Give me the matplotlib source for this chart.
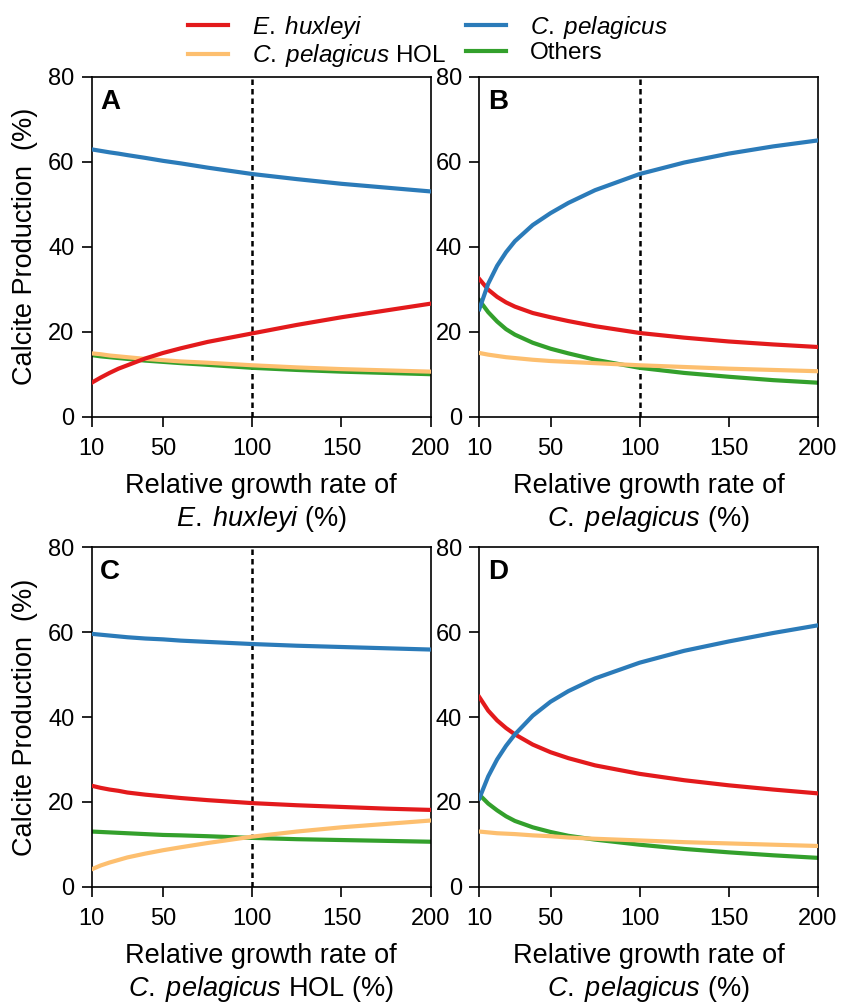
import matplotlib
matplotlib.use("Agg")
import matplotlib.pyplot as plt
from matplotlib.lines import Line2D

plt.rcParams['font.family'] = ['Liberation Sans', 'DejaVu Sans']
plt.rcParams['mathtext.fontset'] = 'custom'
plt.rcParams['mathtext.rm'] = 'Liberation Sans'
plt.rcParams['mathtext.it'] = 'Liberation Sans:italic'

# ---------------- data ----------------
growth = [10, 15, 20, 25, 30, 40, 50, 60, 75, 100, 125, 150, 175, 200]

# Panel A: E. huxleyi growth varied
a_ehux = [8.0, 9.2, 10.3, 11.3, 12.1, 13.7, 15.0, 16.1, 17.6, 19.6, 21.6, 23.4, 25.0, 26.6]
a_cpel = [62.9, 62.55, 62.2, 61.9, 61.55, 60.9, 60.2, 59.6, 58.6, 57.1, 55.9, 54.8, 53.9, 53.0]
a_hol = [14.9, 14.7, 14.4, 14.2, 14.0, 13.6, 13.3, 13.0, 12.7, 12.1, 11.6, 11.2, 10.9, 10.6]
a_oth = [14.5, 14.2, 14.0, 13.8, 13.6, 13.2, 12.9, 12.6, 12.2, 11.5, 11.0, 10.6, 10.3, 10.0]

# Panel B: C. pelagicus growth varied
b_ehux = [32.4, 29.9, 28.2, 26.9, 25.9, 24.4, 23.4, 22.5, 21.3, 19.7, 18.6, 17.7, 17.0, 16.4]
b_cpel = [25.3, 31.3, 35.5, 38.7, 41.3, 45.1, 47.9, 50.3, 53.3, 57.1, 59.8, 61.9, 63.6, 65.0]
b_hol = [15.0, 14.6, 14.3, 14.0, 13.8, 13.4, 13.1, 12.9, 12.6, 12.1, 11.7, 11.3, 11.0, 10.7]
b_oth = [27.4, 24.6, 22.4, 20.6, 19.3, 17.4, 16.0, 14.9, 13.4, 11.5, 10.3, 9.4, 8.6, 8.0]

# Panel C: C. pelagicus HOL growth varied
c_ehux = [23.8, 23.3, 22.9, 22.6, 22.2, 21.7, 21.3, 20.9, 20.4, 19.7, 19.2, 18.8, 18.4, 18.1]
c_cpel = [59.6, 59.4, 59.2, 59.0, 58.8, 58.5, 58.3, 58.0, 57.7, 57.2, 56.8, 56.5, 56.2, 55.9]
c_hol = [4.1, 5.0, 5.7, 6.3, 6.9, 7.8, 8.6, 9.3, 10.3, 11.8, 13.0, 14.0, 14.8, 15.6]
c_oth = [13.0, 12.9, 12.8, 12.7, 12.6, 12.4, 12.2, 12.1, 11.9, 11.5, 11.2, 11.0, 10.8, 10.6]

# Panel D: C. pelagicus growth varied (second scenario)
d_ehux = [44.7, 41.5, 39.2, 37.4, 35.9, 33.5, 31.7, 30.3, 28.6, 26.6, 25.1, 23.9, 22.9, 22.0]
d_cpel = [20.8, 26.0, 30.0, 33.2, 35.9, 40.3, 43.6, 46.1, 49.1, 52.8, 55.6, 57.8, 59.8, 61.6]
d_hol = [13.0, 12.8, 12.6, 12.5, 12.4, 12.1, 11.9, 11.6, 11.3, 10.9, 10.5, 10.2, 9.9, 9.6]
d_oth = [21.7, 19.6, 18.0, 16.6, 15.5, 14.0, 12.9, 12.0, 11.1, 9.9, 8.9, 8.1, 7.4, 6.8]

panel_letters = ['A', 'B', 'C', 'D']
xtick_vals = [10, 50, 100, 150, 200]
ytick_vals = [0, 20, 40, 60, 80]
xlabel_species = [r'$\mathit{E.\;huxleyi}$ (%)',
                  r'$\mathit{C.\;pelagicus}$ (%)',
                  r'$\mathit{C.\;pelagicus}$ HOL (%)',
                  r'$\mathit{C.\;pelagicus}$ (%)']
show_ref = [True, True, True, False]
legend_labels = [r'$\mathit{E.\;huxleyi}$', r'$\mathit{C.\;pelagicus}$ HOL',
                 r'$\mathit{C.\;pelagicus}$', 'Others']

COL_EHUX = '#e31a1c'
COL_CPEL = '#2b7bb9'
COL_HOL = '#fdbf6f'
COL_OTH = '#33a02c'

# ---------------- figure ----------------
W, H = 842, 1006
fig = plt.figure(figsize=(W / 100, H / 100), dpi=100)

def frac_axes(l, r, t, b):
    return fig.add_axes([l / W, 1 - b / H, (r - l) / W, (b - t) / H])

boxes = [(91.7, 430.7, 76.7, 416.7), (479.3, 817.7, 76.7, 416.7),
         (91.7, 430.7, 547.3, 886.7), (479.3, 817.7, 547.3, 886.7)]
data = [(a_ehux, a_cpel, a_hol, a_oth), (b_ehux, b_cpel, b_hol, b_oth),
        (c_ehux, c_cpel, c_hol, c_oth), (d_ehux, d_cpel, d_hol, d_oth)]

lw = 3.0
for i, (box, (eh, cp, hol, oth)) in enumerate(zip(boxes, data)):
    ax = frac_axes(*box)
    if show_ref[i]:
        ax.axvline(100, color='black', lw=1.8, ls=(0, (2.2, 1.6)), zorder=1)
    ax.plot(growth, oth, color=COL_OTH, lw=lw, zorder=2)
    ax.plot(growth, hol, color=COL_HOL, lw=lw, zorder=3)
    ax.plot(growth, eh, color=COL_EHUX, lw=lw, zorder=4)
    ax.plot(growth, cp, color=COL_CPEL, lw=lw, zorder=5)
    ax.set_xlim(10, 200)
    ax.set_ylim(0, 80)
    ax.set_xticks(xtick_vals)
    ax.set_yticks(ytick_vals)
    ax.tick_params(axis='both', direction='out', length=7.5, width=1.2,
                   labelsize=17, top=False, right=False)
    ax.tick_params(axis='x', pad=8)
    ax.tick_params(axis='y', pad=5)
    for s in ax.spines.values():
        s.set_linewidth(1.2)
    ax.text(0.025, 0.965, panel_letters[i], transform=ax.transAxes,
            fontsize=20, fontweight='bold', va='top', ha='left')
    ax.set_xlabel('Relative growth rate of\n' + xlabel_species[i],
                  fontsize=19.5, labelpad=9, linespacing=1.22)
    if i % 2 == 0:
        ax.set_ylabel('Calcite Production  (%)', fontsize=19.5, labelpad=7.5)

handles = [Line2D([], [], color=COL_EHUX, lw=lw),
           Line2D([], [], color=COL_HOL, lw=lw),
           Line2D([], [], color=COL_CPEL, lw=lw),
           Line2D([], [], color=COL_OTH, lw=lw)]
fig.legend(handles, legend_labels, ncol=2, loc='upper center',
           bbox_to_anchor=(0.508, 1.008), frameon=False, fontsize=17.5,
           handlelength=1.65, handletextpad=1.0, columnspacing=0.8,
           labelspacing=0.05)

fig.savefig('out.png', dpi=100)
